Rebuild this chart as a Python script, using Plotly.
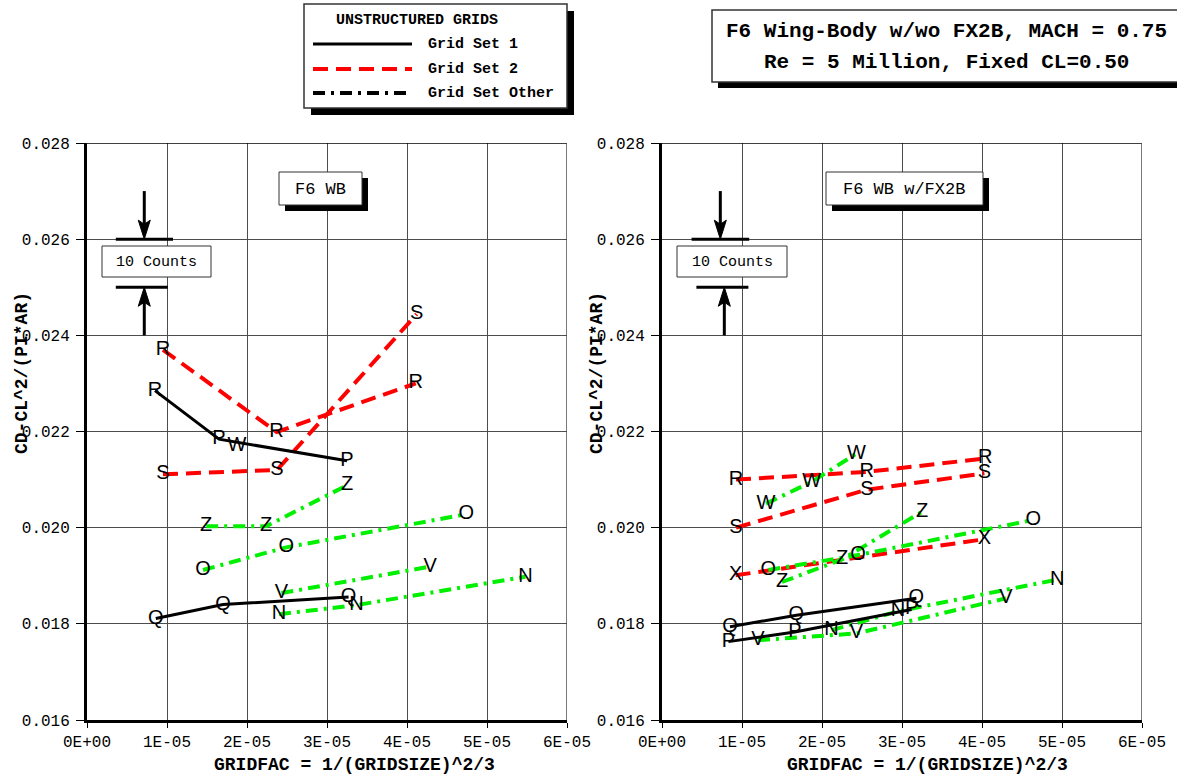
import plotly.graph_objects as go

W, H = 1177, 778

# ---- tick labels -------------------------------------------------------
x_tick_vals = [0, 1e-5, 2e-5, 3e-5, 4e-5, 5e-5, 6e-5]
x_tick_text = ["0E+00", "1E-05", "2E-05", "3E-05", "4E-05", "5E-05", "6E-05"]
y_tick_vals = [0.016, 0.018, 0.020, 0.022, 0.024, 0.026, 0.028]

# ---- F6 WB (left panel) ------------------------------------------------
# Grid Set 1
wb_rp_x = [8.5e-6, 1.65e-5, 3.25e-5]
wb_rp_y = [0.02285, 0.02184, 0.02139]
wb_rp_lbl = ["R", "P", "P"]
wb_w_x = [1.875e-5]
wb_w_y = [0.02169]
wb_q_x = [8.6e-6, 1.70e-5, 3.27e-5]
wb_q_y = [0.01811, 0.01840, 0.01856]
# Grid Set 2
wb_r_x = [9.5e-6, 2.37e-5, 4.11e-5]
wb_r_y = [0.02370, 0.02199, 0.02300]
wb_s_x = [9.5e-6, 2.375e-5, 4.12e-5]
wb_s_y = [0.02111, 0.02120, 0.02444]
# Grid Set Other
wb_z_x = [1.49e-5, 2.24e-5, 3.25e-5]
wb_z_y = [0.02003, 0.02003, 0.02088]
wb_o_x = [1.45e-5, 2.49e-5, 4.74e-5]
wb_o_y = [0.01912, 0.01959, 0.02028]
wb_v_x = [2.43e-5, 4.29e-5]
wb_v_y = [0.01864, 0.01919]
wb_n_x = [2.40e-5, 3.37e-5, 5.48e-5]
wb_n_y = [0.01820, 0.01839, 0.01898]

# ---- F6 WB w/FX2B (right panel) ----------------------------------------
# Grid Set 1
fx_q_x = [8.5e-6, 1.68e-5, 3.18e-5]
fx_q_y = [0.01794, 0.01818, 0.01853]
fx_p_x = [8.3e-6, 1.66e-5, 3.12e-5]
fx_p_y = [0.01763, 0.01783, 0.01830]
# Grid Set 2
fx_r_x = [9.25e-6, 2.56e-5, 4.04e-5]
fx_r_y = [0.02100, 0.02116, 0.02144]
fx_s_x = [9.25e-6, 2.56e-5, 4.03e-5]
fx_s_y = [0.02000, 0.02079, 0.02113]
fx_x_x = [9.2e-6, 4.03e-5]
fx_x_y = [0.01901, 0.01976]
# Grid Set Other
fx_w_x = [1.30e-5, 1.87e-5, 2.43e-5]
fx_w_y = [0.02050, 0.02095, 0.02154]
fx_z_x = [1.50e-5, 2.25e-5, 3.25e-5]
fx_z_y = [0.01887, 0.01934, 0.02033]
fx_o_x = [1.33e-5, 2.45e-5, 4.64e-5]
fx_o_y = [0.01912, 0.01943, 0.02016]
fx_v_x = [1.20e-5, 2.43e-5, 4.30e-5]
fx_v_y = [0.01766, 0.01780, 0.01853]
fx_n_x = [2.12e-5, 2.95e-5, 4.94e-5]
fx_n_y = [0.01787, 0.01826, 0.01892]

# ---- styles ------------------------------------------------------------
MONO = "Liberation Mono"
SANS = "Liberation Sans"
STYLE = {
    "set1": dict(color="black", width=3, dash="solid"),
    "set2": dict(color="#ff0000", width=4, dash="15px,8px"),
    "other": dict(color="#00f000", width=4, dash="12px,6px,3px,6px"),
}

# (set, x, y, labels) per panel
left_series = [
    ("set2", wb_r_x, wb_r_y, ["R"] * 3),
    ("set2", wb_s_x, wb_s_y, ["S"] * 3),
    ("other", wb_z_x, wb_z_y, ["Z"] * 3),
    ("other", wb_o_x, wb_o_y, ["O"] * 3),
    ("other", wb_v_x, wb_v_y, ["V"] * 2),
    ("other", wb_n_x, wb_n_y, ["N"] * 3),
    ("set1", wb_rp_x, wb_rp_y, wb_rp_lbl),
    ("set1", wb_q_x, wb_q_y, ["Q"] * 3),
    (None, wb_w_x, wb_w_y, ["W"]),
]
right_series = [
    ("set2", fx_r_x, fx_r_y, ["R"] * 3),
    ("set2", fx_s_x, fx_s_y, ["S"] * 3),
    ("set2", fx_x_x, fx_x_y, ["X"] * 2),
    ("other", fx_w_x, fx_w_y, ["W"] * 3),
    ("other", fx_z_x, fx_z_y, ["Z"] * 3),
    ("other", fx_o_x, fx_o_y, ["O"] * 3),
    ("other", fx_v_x, fx_v_y, ["V"] * 3),
    ("other", fx_n_x, fx_n_y, ["N"] * 3),
    ("set1", fx_q_x, fx_q_y, ["Q"] * 3),
    ("set1", fx_p_x, fx_p_y, ["P"] * 3),
]

fig = go.Figure()

for series, xa, ya in [(left_series, "x", "y"), (right_series, "x2", "y2")]:
    # lines first
    for kind, xs, ys, _ in series:
        if kind is None:
            continue
        fig.add_trace(go.Scatter(x=xs, y=ys, mode="lines", line=STYLE[kind],
                                 xaxis=xa, yaxis=ya, showlegend=False,
                                 hoverinfo="skip"))
    # letter symbols on top
    for kind, xs, ys, lbl in series:
        fig.add_trace(go.Scatter(x=xs, y=ys, mode="text", text=lbl,
                                 textposition="middle center",
                                 textfont=dict(family=SANS, size=20, color="black"),
                                 xaxis=xa, yaxis=ya, showlegend=False,
                                 cliponaxis=False, hoverinfo="skip"))


def px(x):
    return x / W


def py(y):
    return 1 - y / H


x1_dom = [px(87), px(567)]
x2_dom = [px(662), px(1142)]
y_dom = [py(720), py(143)]

axis_common = dict(
    showgrid=True, gridcolor="#4d4d4d", gridwidth=1,
    showline=True, linecolor="black", linewidth=3,
    ticks="outside", ticklen=8, tickwidth=1, tickcolor="black",
    tickfont=dict(family=MONO, size=16, color="black"),
    zeroline=False, automargin=False,
)
xaxis_cfg = dict(axis_common, range=[0, 6e-5], tickvals=x_tick_vals,
                 ticktext=x_tick_text, ticklen=5)
yaxis_cfg = dict(axis_common, range=[0.016, 0.028], tickvals=y_tick_vals,
                 tickformat=".3f", ticklabelstandoff=3)

fig.update_layout(
    width=W, height=H, autosize=False,
    margin=dict(l=0, r=0, t=0, b=0, autoexpand=False),
    paper_bgcolor="white", plot_bgcolor="white",
    xaxis=dict(xaxis_cfg, domain=x1_dom, anchor="y"),
    yaxis=dict(yaxis_cfg, domain=y_dom, anchor="x"),
    xaxis2=dict(xaxis_cfg, domain=x2_dom, anchor="y2"),
    yaxis2=dict(yaxis_cfg, domain=y_dom, anchor="x2"),
)

shapes = []
annotations = []


def box(x0, y0, x1, y1, shadow=6, lw=1):
    """White framed box with a drop shadow, in page pixels."""
    if shadow:
        shapes.append(dict(type="rect", xref="paper", yref="paper",
                           x0=px(x0 + shadow), x1=px(x1 + shadow),
                           y0=py(y0 + shadow), y1=py(y1 + shadow),
                           fillcolor="black", line=dict(width=0), layer="above"))
    shapes.append(dict(type="rect", xref="paper", yref="paper",
                       x0=px(x0), x1=px(x1), y0=py(y0), y1=py(y1),
                       fillcolor="white", line=dict(color="#333333", width=lw),
                       layer="above"))


def text(x, y, s, size, bold=False, family=MONO, xanchor="center", angle=0):
    annotations.append(dict(xref="paper", yref="paper", x=px(x), y=py(y),
                            text=f"<b>{s}</b>" if bold else s, showarrow=False,
                            xanchor=xanchor, yanchor="middle", textangle=angle,
                            font=dict(family=family, size=size, color="black")))


# frame edges (top and right) of each panel
for xa, ya in [("x", "y"), ("x2", "y2")]:
    shapes.append(dict(type="line", xref=xa, yref=ya, x0=0, x1=6e-5,
                       y0=0.028, y1=0.028, line=dict(color="black", width=1.5)))
    shapes.append(dict(type="line", xref=xa, yref=ya, x0=6e-5, x1=6e-5,
                       y0=0.016, y1=0.028, line=dict(color="#4d4d4d", width=1.5)))

# legend
box(304, 4, 567, 108, shadow=7, lw=1.5)
text(417, 21, "UNSTRUCTURED GRIDS", 15, bold=True)
leg_rows = [("set1", "Grid Set 1", 44), ("set2", "Grid Set 2", 69),
            ("other", "Grid Set Other", 93)]
for kind, label, yy in leg_rows:
    st = dict(STYLE[kind])
    if kind == "other":
        st["color"] = "black"
    shapes.append(dict(type="line", xref="paper", yref="paper",
                       x0=px(313), x1=px(412), y0=py(yy), y1=py(yy),
                       line=st, layer="above"))
    text(426, yy, label, 15, bold=True, xanchor="left")

# title box
box(712, 10, 1190, 82, shadow=6, lw=1.5)
text(946, 31, "F6 Wing-Body w/wo FX2B, MACH = 0.75", 21, bold=True)
text(946, 62, "Re = 5 Million, Fixed CL=0.50", 21, bold=True)

# panel labels
box(279, 172, 362, 205, shadow=6)
text(320.5, 189, "F6 WB", 17)
box(826, 172, 983, 205, shadow=6)
text(904, 189, "F6 WB w/FX2B", 17)

# "10 Counts" scale markers (0.001 between the bars)
for xa, ya, bar_top, bar_bot, ax_top, ax_bot, bx0, bx1 in [
    ("x", "y", (3.6e-6, 1.075e-5), (3.6e-6, 1.01e-5), 7.16e-6, 7.16e-6, 102, 211),
    ("x2", "y2", (3.7e-6, 1.09e-5), (4.3e-6, 1.08e-5), 7.29e-6, 7.79e-6, 677, 787),
]:
    shapes.append(dict(type="line", xref=xa, yref=ya, x0=bar_top[0], x1=bar_top[1],
                       y0=0.026, y1=0.026, line=dict(color="black", width=3)))
    shapes.append(dict(type="line", xref=xa, yref=ya, x0=bar_bot[0], x1=bar_bot[1],
                       y0=0.025, y1=0.025, line=dict(color="black", width=3)))
    # shafts
    shapes.append(dict(type="line", xref=xa, yref=ya, x0=ax_top, x1=ax_top,
                       y0=0.027, y1=0.0262, line=dict(color="black", width=3)))
    shapes.append(dict(type="line", xref=xa, yref=ya, x0=ax_bot, x1=ax_bot,
                       y0=0.024, y1=0.0248, line=dict(color="black", width=3)))
    # heads (pixel paths anchored at the bars)
    shapes.append(dict(type="path", xref=xa, yref=ya, xsizemode="pixel",
                       ysizemode="pixel", xanchor=ax_top, yanchor=0.026,
                       path="M 0 0 L -6 19 L 0 15 L 6 19 Z",
                       fillcolor="black", line=dict(color="black", width=1)))
    shapes.append(dict(type="path", xref=xa, yref=ya, xsizemode="pixel",
                       ysizemode="pixel", xanchor=ax_bot, yanchor=0.025,
                       path="M 0 0 L -6 -19 L 0 -15 L 6 -19 Z",
                       fillcolor="black", line=dict(color="black", width=1)))
    box(bx0, 246, bx1, 277, shadow=0)
    text((bx0 + bx1) / 2, 262, "10 Counts", 15)

# axis titles
text(354, 765, "GRIDFAC = 1/(GRIDSIZE)^2/3", 18, bold=True)
text(927, 765, "GRIDFAC = 1/(GRIDSIZE)^2/3", 18, bold=True)
text(22, 373, "CD-CL^2/(PI*AR)", 18, bold=True, angle=-90)
text(597, 373, "CD-CL^2/(PI*AR)", 18, bold=True, angle=-90)

fig.update_layout(shapes=shapes, annotations=annotations)
fig.write_html("out.html")
